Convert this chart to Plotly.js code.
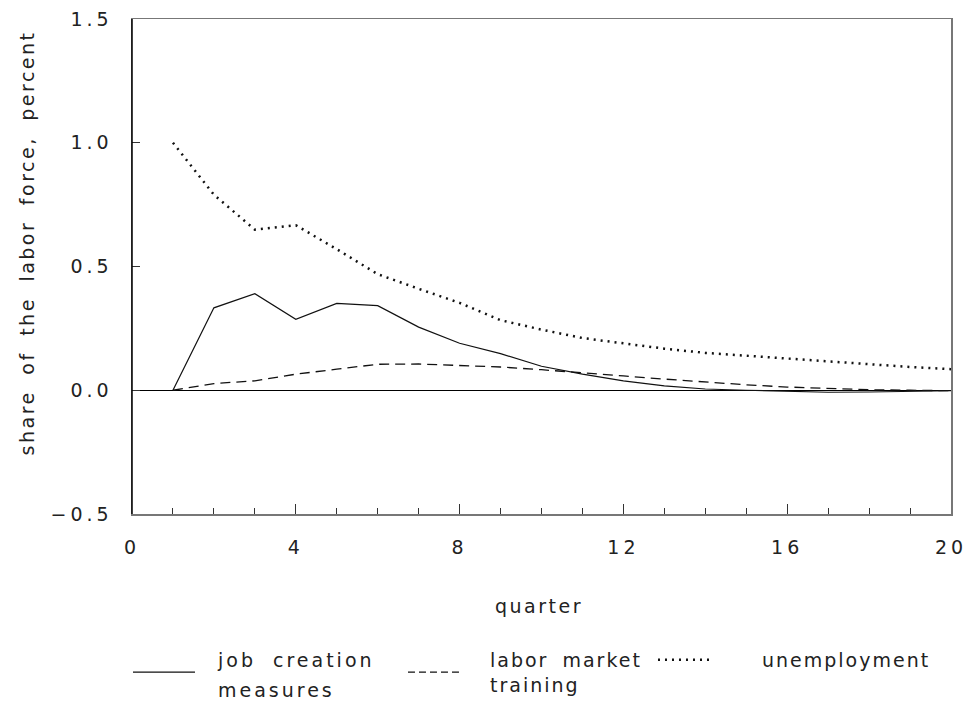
<!DOCTYPE html>
<html>
<head>
<meta charset="utf-8">
<script src="https://cdn.plot.ly/plotly-3.0.1.min.js"></script>
<style>
  html, body { margin: 0; padding: 0; background: #fff; }
  #chart { width: 974px; height: 708px; }
  svg text { letter-spacing: 2px; word-spacing: 6px; }
  svg .ytick text, svg .xtick text { letter-spacing: 4px; }
  svg .legendtext { letter-spacing: 3px; word-spacing: 8px; }
  svg .annotation-text { letter-spacing: 2.5px; word-spacing: 7px; }
</style>
</head>
<body>
<div id="chart"></div>
<script>
const quarters = [1,2,3,4,5,6,7,8,9,10,11,12,13,14,15,16,17,18,19,20];
const jobCreation = [0.0,0.333,0.39,0.287,0.351,0.342,0.255,0.19,0.148,0.097,0.065,0.038,0.018,0.005,0.0,-0.005,-0.008,-0.007,-0.005,-0.002];
const laborTraining = [0.0,0.027,0.038,0.065,0.085,0.105,0.106,0.1,0.094,0.083,0.072,0.058,0.045,0.033,0.022,0.013,0.007,0.002,0.0,-0.002];
const unemployment = [1.0,0.79,0.649,0.667,0.57,0.469,0.41,0.353,0.283,0.245,0.211,0.189,0.168,0.151,0.139,0.127,0.115,0.104,0.094,0.085];
const seriesNames = ['job creation<br>measures','labor market<br>training','unemployment'];
const yTicks = [-0.5,0,0.5,1.0,1.5];
const xTicks = [0,4,8,12,16,20];

const FONT = 'DejaVu Sans, Liberation Sans, sans-serif';
const traces = [
  {x: quarters, y: jobCreation, name: seriesNames[0], mode: 'lines', legend: 'legend',
   line: {color: '#111', width: 1.2}},
  {x: quarters, y: laborTraining, name: seriesNames[1], mode: 'lines', legend: 'legend2',
   line: {color: '#111', width: 1.3, dash: '10px,6px'}},
  {x: quarters, y: unemployment, name: seriesNames[2], mode: 'lines', legend: 'legend3',
   line: {color: '#111', width: 2.5, dash: '2px,5px'}}
];

const legendBase = {yref: 'container', y: 0.0946, xanchor: 'left', yanchor: 'top', orientation: 'v',
                    font: {size: 19, color: '#222'}, bgcolor: 'rgba(0,0,0,0)'};

const layout = {
  width: 974, height: 708,
  margin: {l: 132, r: 23, t: 19, b: 194},
  paper_bgcolor: '#fff', plot_bgcolor: '#fff',
  font: {family: FONT, size: 19, color: '#222'},
  showlegend: true,
  legend: Object.assign({x: -0.011, itemwidth: 85}, legendBase),
  legend2: Object.assign({x: 0.3211, itemwidth: 85}, legendBase),
  legend3: Object.assign({x: 0.6227, itemwidth: 110}, legendBase),
  xaxis: {range: [0, 20], tickvals: xTicks, ticktext: xTicks.map(String),
          ticks: 'inside', ticklen: 10, tickcolor: '#333', tickwidth: 1,
          minor: {dtick: 1, tick0: 0, ticks: 'inside', ticklen: 6, tickcolor: '#333', showgrid: false},
          showgrid: false, zeroline: false, showline: true, linecolor: '#777', linewidth: 1.5,
          mirror: true, ticklabelstandoff: 16, tickfont: {size: 19, color: '#222'}},
  yaxis: {range: [-0.5, 1.5], tickvals: yTicks, tickformat: '.1f',
          ticks: 'inside', ticklen: 8, tickcolor: '#333', tickwidth: 1,
          showgrid: false, zeroline: true, zerolinecolor: '#000', zerolinewidth: 1.3,
          showline: true, linecolor: '#777', linewidth: 1.5, mirror: true,
          ticklabelstandoff: 14, tickfont: {size: 19, color: '#222'}},
  shapes: [
    {type: 'line', xref: 'paper', yref: 'paper', x0: 0, x1: 0, y0: 0, y1: 1,
     line: {color: '#000', width: 1.5}}
  ],
  annotations: [
    {text: 'share of the labor force, percent', xref: 'paper', yref: 'paper',
     x: -0.128, y: 0.547, textangle: -90, showarrow: false,
     font: {size: 19, color: '#222'}, xanchor: 'center', yanchor: 'middle'},
    {text: 'quarter', xref: 'paper', yref: 'paper', x: 0.497, y: -0.186,
     showarrow: false, font: {size: 19, color: '#222'}, xanchor: 'center', yanchor: 'middle'}
  ]
};

// legend sample geometry (relative to each legend item): start offset, length, dash
const legendSamples = [
  {start: 10, len: 62, dash: null},
  {start: 13, len: 54, dash: '7px,4px'},
  {start: 16, len: 54, dash: null}
];

function fixLegends(gd) {
  gd.querySelectorAll('.legendlines path.js-line').forEach(function(p, i) {
    const s = legendSamples[i];
    if (!s) return;
    p.setAttribute('d', 'M' + s.start + ',0h' + s.len);
    if (s.dash) p.style.strokeDasharray = s.dash;
  });
  gd.querySelectorAll('.legendtext').forEach(function(txt) {
    const lines = txt.querySelectorAll('tspan');
    lines.forEach(function(t, j) { if (j > 0) t.setAttribute('dy', '1.55em'); });
  });
}

Plotly.newPlot('chart', traces, layout, {displayModeBar: false, staticPlot: true}).then(function(gd) {
  fixLegends(gd);
  setTimeout(function() { fixLegends(gd); }, 50);
});
</script>
</body>
</html>
